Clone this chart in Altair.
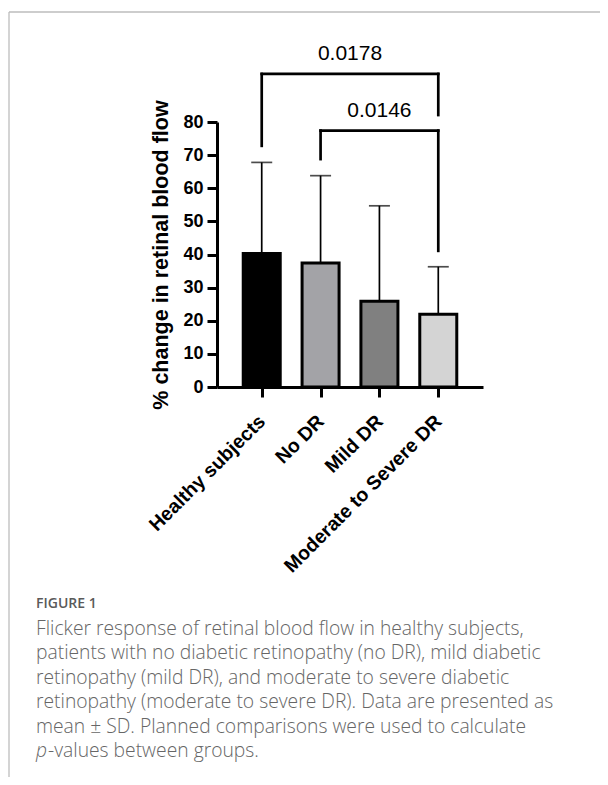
import json
import altair as alt
import pandas as pd

# ---------------- data ----------------
groups = ["Healthy subjects", "No DR", "Mild DR", "Moderate to Severe DR"]
means = [40.3, 37.4, 25.9, 22.0]
sds = [27.5, 26.4, 28.8, 14.3]
fills = ["#000000", "#a3a3a7", "#808080", "#d4d4d4"]

cmp_from = [0, 1]          # index of left group of each bracket
cmp_to = [3, 3]            # index of right group of each bracket
cmp_p = ["0.0178", "0.0146"]
cmp_top = [94.5, 77.4]     # level of the bracket's horizontal bar
cmp_from_end = [72.8, 68.8]
cmp_to_end = [82.1, 41.1]

y_ticks = [0, 10, 20, 30, 40, 50, 60, 70, 80]
y_title = "% change in retinal blood flow"

caption_title = "FIGURE 1"
caption_lines = [
    "Flicker response of retinal blood flow in healthy subjects,",
    "patients with no diabetic retinopathy (no DR), mild diabetic",
    "retinopathy (mild DR), and moderate to severe diabetic",
    "retinopathy (moderate to severe DR). Data are presented as",
    "mean \u00b1 SD. Planned comparisons were used to calculate",
]
caption_last_italic = "p"
caption_last_rest = "-values between groups."

# ---------------- tables ----------------
bars = pd.DataFrame({
    "pos": list(range(len(groups))),
    "group": groups,
    "mean": means,
    "upper": [m + s for m, s in zip(means, sds)],
    "fill": fills,
})
cmp = pd.DataFrame({
    "x_from": cmp_from, "x_to": cmp_to, "p": cmp_p,
    "top": cmp_top, "from_end": cmp_from_end, "to_end": cmp_to_end,
})
one = pd.DataFrame({"k": [0]})

FONT = "Liberation Sans"
W, H = 266, 265
PAD_L, PAD_T = 209, 114

xscale = alt.Scale(domain=[-0.675, 3.675], nice=False, zero=False)
yscale = alt.Scale(domain=[0, 80], nice=False)
xaxis = alt.Axis(values=list(range(len(groups))),
                 labelExpr=json.dumps(groups) + "[datum.value]")
yaxis = alt.Axis(values=y_ticks)


def X(field):
    return alt.X(field, type="quantitative", scale=xscale, axis=xaxis, title=None)


def Y(field):
    return alt.Y(field, type="quantitative", scale=yscale, axis=yaxis, title=y_title)


base = alt.Chart(bars)

err = base.mark_rule(color="black", strokeWidth=1.7).encode(
    x=X("pos"), y=Y("mean"), y2="upper")
caps = base.mark_tick(color="black", orient="horizontal", size=21, thickness=1.7).encode(
    x=X("pos"), y=Y("upper"))
barl = base.mark_bar(width=37, stroke="black", strokeWidth=3).encode(
    x=X("pos"), y=Y("mean"), fill=alt.Fill("fill:N", scale=None))

cb = alt.Chart(cmp)
leg_l = cb.mark_rule(color="black", strokeWidth=2.7, strokeCap="square").encode(
    x=X("x_from"), y=Y("top"), y2="from_end")
leg_r = cb.mark_rule(color="black", strokeWidth=2.7, strokeCap="square").encode(
    x=X("x_to"), y=Y("top"), y2="to_end")
hbar = cb.mark_rule(color="black", strokeWidth=2.7, strokeCap="square").encode(
    x=X("x_from"), x2="x_to", y=Y("top"))
ptxt = cb.transform_calculate(mid="(datum.x_from + datum.x_to) / 2").mark_text(
    font=FONT, fontSize=21, color="black", baseline="alphabetic", dy=-13.5
).encode(x=X("mid"), y=Y("top"), text="p:N")

# page frame lines (journal layout)
ob = alt.Chart(one)
frame_top = ob.mark_rule(color="#bdbdbd", strokeWidth=1.3).encode(
    x=alt.value(9 - 8 - PAD_L), x2=alt.value(620), y=alt.value(12 - 8 - PAD_T))
frame_left = ob.mark_rule(color="#bdbdbd", strokeWidth=1.3).encode(
    x=alt.value(9 - 8 - PAD_L), y=alt.value(12 - 8 - PAD_T), y2=alt.value(800))

CAP_FS = 19.3
LH = 24.4
cx = 36 - 8 - PAD_L
fig_t = ob.mark_text(text=caption_title, font="Open Sans", fontSize=14, fontWeight=600,
                     color="#5a5a5a", align="left", baseline="alphabetic").encode(
    x=alt.value(cx), y=alt.value(608 - 8 - PAD_T))
cap_t = ob.mark_text(text=caption_lines, font="Open Sans", fontSize=CAP_FS, fontWeight=300,
                     color="#666666", align="left", baseline="alphabetic",
                     lineHeight=LH).encode(
    x=alt.value(cx), y=alt.value(635 - 8 - PAD_T))
cap_p = ob.mark_text(text=caption_last_italic, font="Open Sans", fontSize=CAP_FS, fontWeight=300,
                     fontStyle="italic", color="#666666", align="left",
                     baseline="alphabetic").encode(
    x=alt.value(cx), y=alt.value(635 + 5 * LH - 8 - PAD_T))
cap_r = ob.mark_text(text=caption_last_rest, font="Open Sans", fontSize=CAP_FS, fontWeight=300,
                     color="#666666", align="left", baseline="alphabetic").encode(
    x=alt.value(cx + 12), y=alt.value(635 + 5 * LH - 8 - PAD_T))

chart = alt.layer(
    err, caps, barl, leg_l, leg_r, hbar, ptxt,
    frame_top, frame_left, fig_t, cap_t, cap_p, cap_r
).properties(
    width=W, height=H,
    autosize=alt.AutoSizeParams(type="none"),
    padding={"left": PAD_L, "top": PAD_T, "right": 592 - PAD_L - W, "bottom": 769 - PAD_T - H},
).configure_view(stroke=None).configure_axis(
    domainColor="black", domainWidth=3, tickColor="black", tickWidth=3, grid=False,
    labelFont=FONT, labelFontWeight="bold", labelColor="black",
    titleFont=FONT, titleFontWeight="bold", titleColor="black",
).configure_axisX(
    tickSize=10, labelAngle=315, labelAlign="right", labelBaseline="middle",
    labelPadding=21, labelFontSize=19.5, labelOverlap=False, labelLimit=0,
).configure_axisY(
    tickSize=10, labelPadding=4, labelFontSize=18, titleFontSize=21.5, titlePadding=10,
)

chart.save("out.html", embed_options={"renderer": "svg", "actions": False})
